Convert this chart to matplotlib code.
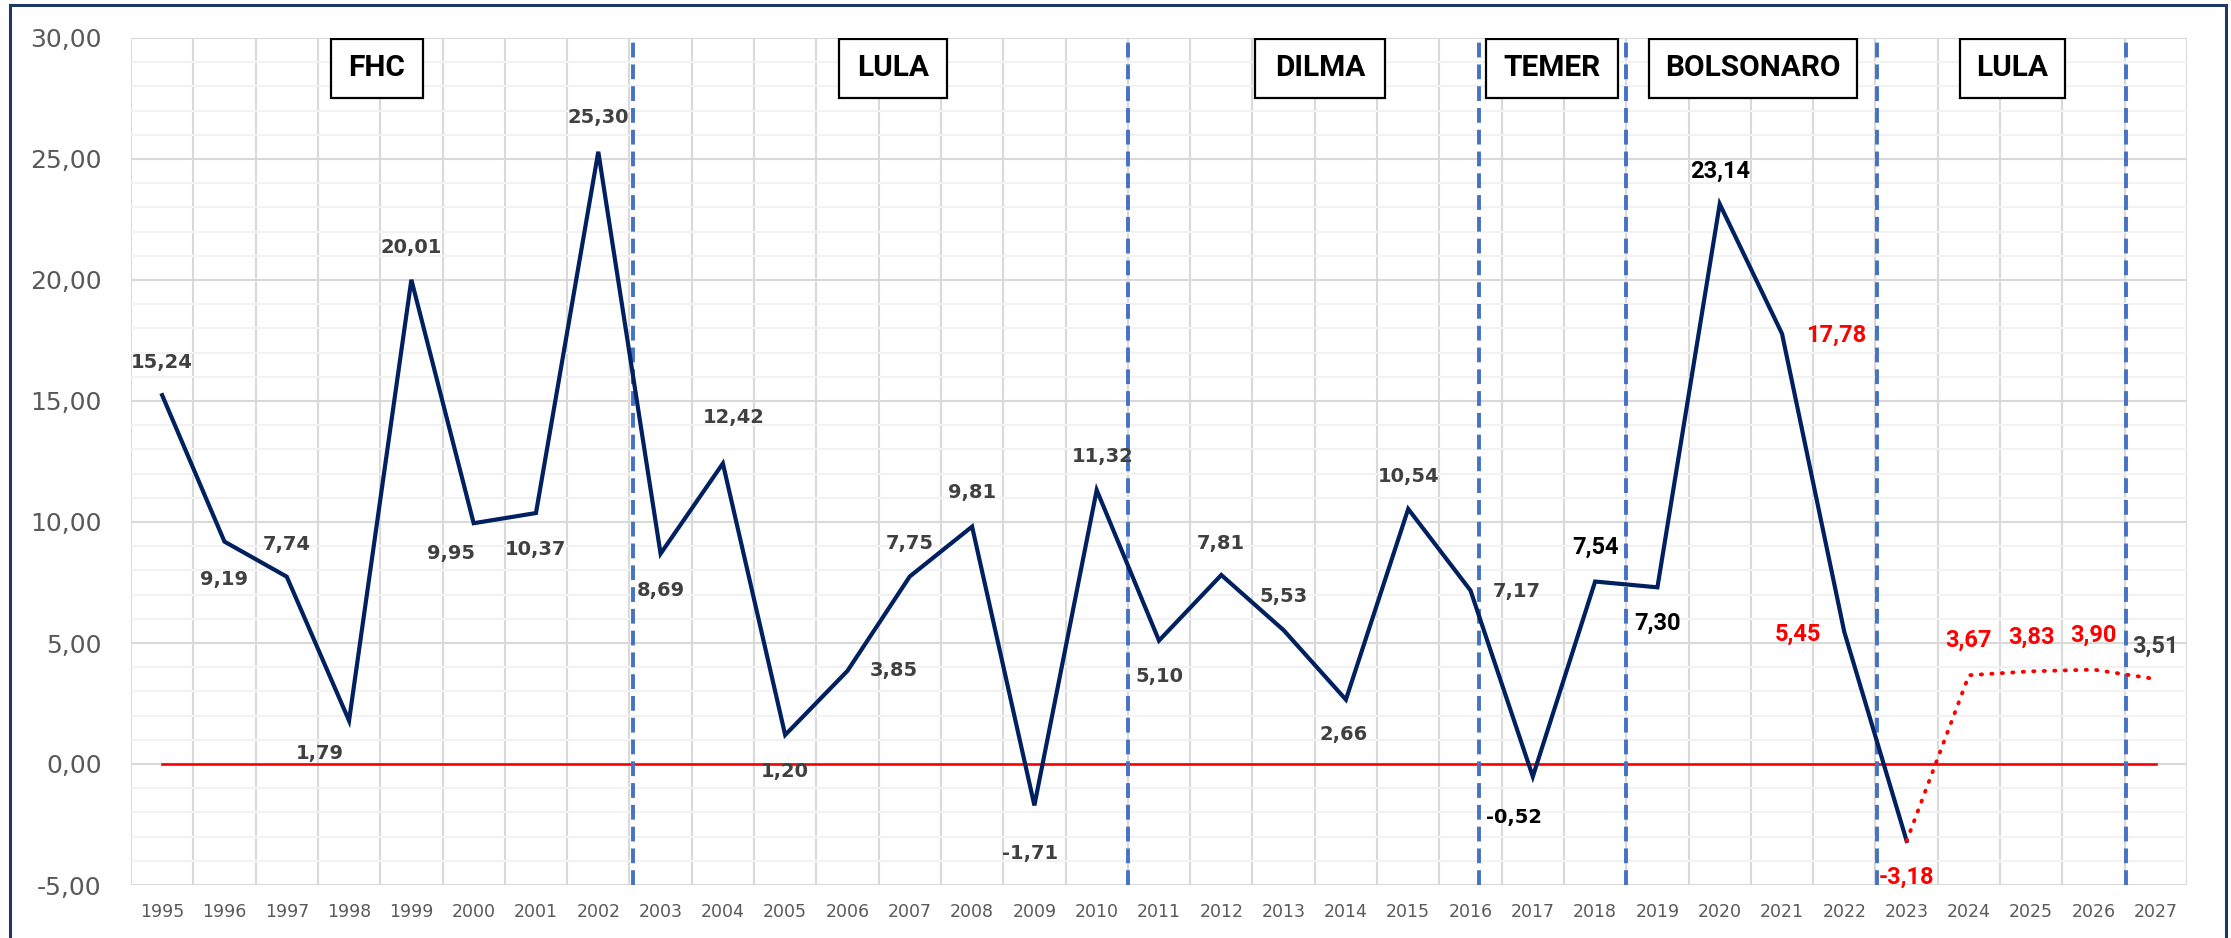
import matplotlib
matplotlib.use("Agg")
import matplotlib.pyplot as plt
from matplotlib.patches import Rectangle
from matplotlib.ticker import MultipleLocator, FixedLocator

# ---- data ----
anos = [1995, 1996, 1997, 1998, 1999, 2000, 2001, 2002, 2003, 2004, 2005,
        2006, 2007, 2008, 2009, 2010, 2011, 2012, 2013, 2014, 2015, 2016,
        2017, 2018, 2019, 2020, 2021, 2022, 2023, 2024, 2025, 2026, 2027]
valores = [15.24, 9.19, 7.74, 1.79, 20.01, 9.95, 10.37, 25.30, 8.69, 12.42,
           1.20, 3.85, 7.75, 9.81, -1.71, 11.32, 5.10, 7.81, 5.53, 2.66,
           10.54, 7.17, -0.52, 7.54, 7.30, 23.14, 17.78, 5.45, -3.18]
projecao_anos = [2023, 2024, 2025, 2026, 2027]
projecao = [-3.18, 3.67, 3.83, 3.90, 3.51]
zero_linha = [0.0] * len(anos)

governos = ["FHC", "LULA", "DILMA", "TEMER", "BOLSONARO", "LULA"]
y_ticks = [-5, 0, 5, 10, 15, 20, 25, 30]

# ---- layout / style (positions in category units) ----
divisorias = [7.55, 15.5, 21.13, 23.5, 27.52, 31.52]
caixas_x = [(2.71, 4.18), (10.87, 12.59), (17.54, 19.63), (21.25, 23.37),
            (23.86, 27.21), (28.85, 30.54)]
caixa_y = (27.5, 29.95)

# label offsets (dx in categories, dy in value units)
offsets = [(0, 1.35), (0, -1.55), (0, 1.35), (-0.47, -1.35), (0, 1.35),
           (-0.36, -1.25), (0, -1.5), (0, 1.4), (0, -1.5), (0.18, 1.9),
           (0, -1.5), (0.74, 0), (0, 1.35), (0, 1.4), (-0.07, -2.0),
           (0.09, 1.4), (0, -1.5), (0, 1.3), (0, 1.4), (-0.03, -1.45),
           (0, 1.35), (0.74, -0.05), (-0.3, -1.7), (0, 1.4), (0, -1.5),
           (0, 1.35), (0.87, -0.05), (-0.75, -0.1), (0, -1.5),
           (0, 1.45), (0, 1.4), (0, 1.4), (0, 1.35)]

CINZA = "#404040"
cores = [CINZA] * 22 + ["black"] * 4 + ["#FF0000"] * 6 + [CINZA]
estreita = [False] * 23 + [True] * 10

todos_valores = valores + projecao[1:]
x = list(range(len(anos)))
x_real = x[:len(valores)]
x_proj = [anos.index(a) for a in projecao_anos]

W, H = 2231, 938
fig = plt.figure(figsize=(W / 100, H / 100), dpi=100)
ax = fig.add_axes([131 / W, 1 - 885 / H, (2187 - 131) / W, (885 - 38) / H])

ax.set_xlim(-0.5, len(anos) - 0.5)
ax.set_ylim(-5, 30)

# grid
ax.set_xticks(x)
ax.set_xticklabels([str(a) for a in anos])
ax.xaxis.set_minor_locator(FixedLocator([i - 0.5 for i in range(len(anos) + 1)]))
ax.set_yticks(y_ticks)
ax.set_yticklabels([("%.2f" % v).replace(".", ",") for v in y_ticks])
ax.yaxis.set_minor_locator(MultipleLocator(1))
ax.xaxis.grid(True, which="minor", color="#D9D9D9", lw=1.5)
ax.yaxis.grid(True, which="minor", color="#F2F2F2", lw=1.5)
ax.yaxis.grid(True, which="major", color="#D9D9D9", lw=1.5)
ax.set_axisbelow(True)
ax.tick_params(which="both", length=0)
ax.tick_params(axis="y", labelsize=18, labelcolor="#595959", pad=21)
ax.tick_params(axis="x", labelsize=12.5, labelcolor="#595959", pad=13)
for s in ax.spines.values():
    s.set_visible(False)

# lines
ax.plot(x, zero_linha, color="#FF0000", lw=1.9, zorder=3)
for d in divisorias:
    ax.axvline(d, color="#4472C4", lw=2.8, dashes=(3.8, 1.8), zorder=3)
ax.plot(x_real, valores, color="#002060", lw=3.0, zorder=4,
        solid_joinstyle="miter")
ax.plot(x_proj, projecao, color="#FF0000", lw=2.8, zorder=4,
        dashes=(0.3, 2.4), dash_capstyle="round")

# data labels
for i, v in enumerate(todos_valores):
    dx, dy = offsets[i]
    txt = ("%.2f" % v).replace(".", ",")
    if estreita[i]:
        ax.text(x[i] + dx, v + dy, txt, ha="center", va="center",
                color=cores[i], fontsize=17, fontweight="bold",
                family=["Roboto", "DejaVu Sans"], zorder=6)
    else:
        ax.text(x[i] + dx, v + dy, txt, ha="center", va="center",
                color=cores[i], fontsize=14, fontweight="bold",
                family=["DejaVu Sans"], zorder=6)

# government boxes
for nome, (x0, x1) in zip(governos, caixas_x):
    ax.add_patch(Rectangle((x0, caixa_y[0]), x1 - x0, caixa_y[1] - caixa_y[0],
                           facecolor="white", edgecolor="black", lw=1.6,
                           zorder=7))
    ax.text((x0 + x1) / 2, (caixa_y[0] + caixa_y[1]) / 2 + 0.05, nome,
            ha="center", va="center", fontsize=21.5, fontweight="bold",
            family=["Roboto", "DejaVu Sans"], zorder=8)

# outer border
fig.patches.append(Rectangle((10 / W, -0.05), (2226 - 10) / W, 1.05 - 5 / H,
                             transform=fig.transFigure, fill=False,
                             edgecolor="#1F3864", lw=2.2))

fig.savefig("out.png", dpi=100)
